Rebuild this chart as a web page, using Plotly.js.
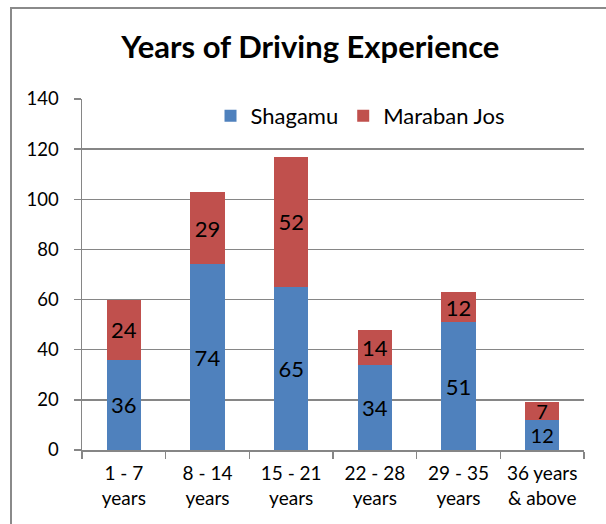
<!DOCTYPE html>
<html>
<head>
<meta charset="utf-8">
<script src="https://cdn.plot.ly/plotly-3.0.1.min.js"></script>
<style>
html,body{margin:0;padding:0;background:#fff;overflow:hidden;}
#wrap{position:relative;width:606px;height:524px;overflow:hidden;}
#chart{width:606px;height:524px;}
#frame{position:absolute;left:10px;top:7px;width:700px;height:700px;border-left:2px solid #8a8a8a;border-top:2px solid #8a8a8a;pointer-events:none;z-index:5;}
</style>
</head>
<body>
<div id="wrap"><div id="chart"></div><div id="frame"></div></div>
<script>
const categories = ["1 - 7<br>years", "8 - 14<br>years", "15 - 21<br>years", "22 - 28<br>years", "29 - 35<br>years", "36 years<br>& above"];
const shagamu = [36, 74, 65, 34, 51, 12];
const marabanJos = [24, 29, 52, 14, 12, 7];
const seriesNames = ["Shagamu", "Maraban Jos"];
const yTicks = [0, 20, 40, 60, 80, 100, 120, 140];

const FONT = "Lato, 'Open Sans', sans-serif";
const labelSizes = [22, 22, 22, 22, 22, 20];
const labelFont = {family: FONT, size: labelSizes, color: "#000"};

const traces = [
  {type: "bar", name: seriesNames[0], x: categories, y: shagamu, text: shagamu.map(String),
   textposition: "inside", insidetextanchor: "middle", constraintext: "none", textangle: 0, textfont: labelFont,
   marker: {color: "#4F81BD"}, hoverinfo: "none"},
  {type: "bar", name: seriesNames[1], x: categories, y: marabanJos, text: marabanJos.map(String),
   textposition: "inside", insidetextanchor: "middle", constraintext: "none", textangle: 0, textfont: labelFont,
   marker: {color: "#C0504D"}, hoverinfo: "none"}
];

const layout = {
  width: 606, height: 524,
  barmode: "stack", bargap: 0.59,
  margin: {l: 82, r: 22, t: 99, b: 74, pad: 0},
  paper_bgcolor: "#fff", plot_bgcolor: "#fff",
  font: {family: FONT, color: "#000"},
  title: {text: "<b>Years of Driving Experience</b>", font: {family: FONT, size: 31, color: "#000"},
          x: 0.512, xanchor: "center", y: 0.91, yanchor: "middle", xref: "container", yref: "container"},
  showlegend: true,
  legend: {orientation: "h", x: 0.256, xanchor: "left", y: 0.952, yanchor: "middle",
           font: {family: FONT, size: 22, color: "#000"}, bgcolor: "rgba(0,0,0,0)", itemwidth: 30, traceorder: "normal"},
  xaxis: {type: "category", showline: true, linecolor: "#868686", linewidth: 1.5,
          ticks: "outside", tickson: "boundaries", ticklen: 7, tickcolor: "#868686", tickwidth: 1.5,
          ticklabelstandoff: 6,
          tickfont: {family: FONT, size: 19, color: "#000"}, showgrid: false, fixedrange: true},
  yaxis: {range: [0, 140], tickvals: yTicks, ticktext: yTicks.map(String), showline: true,
          linecolor: "#868686", linewidth: 1.5, ticks: "outside", ticklen: 7, tickcolor: "#868686", tickwidth: 1.5,
          ticklabelstandoff: 11,
          gridcolor: "#868686", gridwidth: 1.5, zeroline: false,
          tickfont: {family: FONT, size: 18.5, color: "#000"}, fixedrange: true}
};

Plotly.newPlot("chart", traces, layout, {displayModeBar: false, staticPlot: true});
</script>
</body>
</html>
